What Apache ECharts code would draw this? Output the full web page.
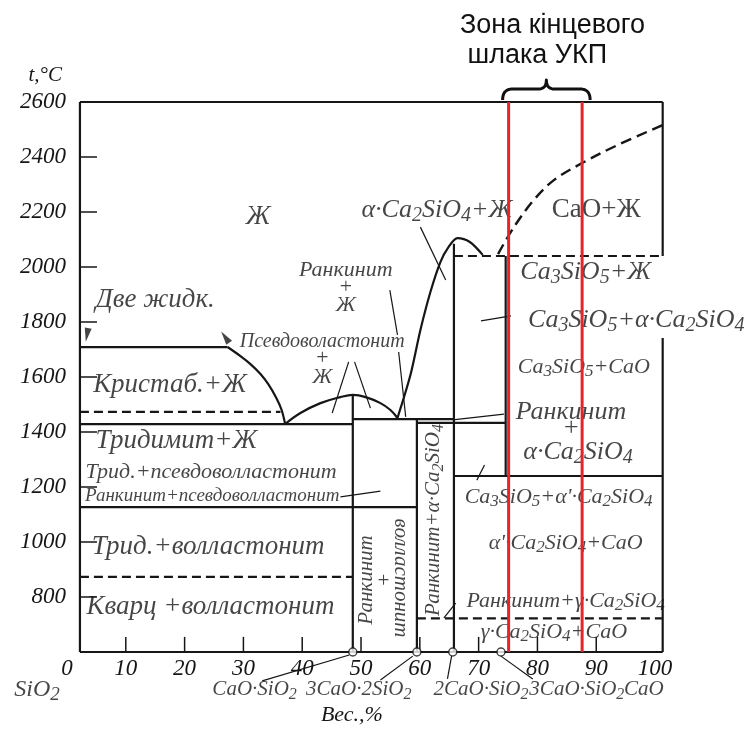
<!DOCTYPE html>
<html>
<head>
<meta charset="utf-8">
<script src="https://cdn.jsdelivr.net/npm/echarts@6/dist/echarts.min.js"></script>
<style>
  html, body { margin: 0; padding: 0; background: #fff; }
  #chart { width: 753px; height: 736px; }
</style>
</head>
<body>
<div id="chart"></div>
<script>
// ---- CaO–SiO2 phase diagram: composition in wt.% CaO, temperature in °C ----

const compTicks = [10, 20, 30, 40, 50, 60, 70, 80, 90];
const tempTicks = [800, 1000, 1200, 1400, 1600, 1800, 2000, 2200, 2400];

// outer frame of the diagram
const frameLeft = 2.2;
const frameRight = 101.3;
const tBottom = 600;
const tTop = 2600;

// compound compositions (wt.% CaO): CaO·SiO2, 3CaO·2SiO2, 2CaO·SiO2, 3CaO·SiO2
const compoundMarks = [48.6, 59.5, 65.6, 73.8];

// liquidus curves
const silicaLiquidus = [[27.3, 1709], [29.5, 1676], [31.2, 1647], [32.9, 1611], [34.2, 1575], [35.6, 1524], [36.5, 1480], [37.1, 1429]];
const wollastoniteDome = [[37.1, 1429], [39.7, 1469], [43.1, 1505], [46.5, 1527], [48.6, 1535], [50.8, 1527], [53.3, 1505], [55.0, 1480], [56.2, 1451]];
const dicalciumLiquidus = [[56.2, 1451], [58.4, 1607], [60.1, 1771], [61.8, 1909], [63.5, 2018], [64.9, 2073], [66.4, 2105], [68.5, 2091], [70.7, 2044]];
const limeLiquidus = [[73.3, 2047], [76.0, 2145], [79.4, 2244], [82.8, 2316], [87.6, 2378], [93.7, 2444], [101.3, 2516]];

// solid boundaries (isotherms and compound lines)
const solidLines = [
  [[frameLeft, 1709], [27.3, 1709]],
  [[frameLeft, 1429], [48.6, 1429]],
  [[48.6, 1535], [48.6, 600]],
  [[48.6, 1447], [65.8, 1447]],
  [[59.5, 1447], [59.5, 600]],
  [[59.5, 1433], [74.6, 1433]],
  [[65.8, 2085], [65.8, 600]],
  [[74.6, 2040], [74.6, 1240]],
  [[65.8, 1240], [frameRight, 1240]],
  [[frameLeft, 1127], [59.5, 1127]]
];

// polymorphic transitions (dashed)
const dashedLines = [
  [[frameLeft, 1473], [36.3, 1473]],
  [[frameLeft, 873], [48.6, 873]],
  [[59.5, 722], [frameRight, 722]],
  [[65.8, 2040], [frameRight, 2040]]
];

// frame sides
const frameLines = [
  [[frameLeft, tBottom], [frameLeft, tTop]],
  [[frameLeft, tTop], [frameRight, tTop]],
  [[frameLeft, tBottom], [frameRight, tBottom]],
  [[frameRight, tTop], [frameRight, 2040]],
  [[frameRight, 1742], [frameRight, tBottom]]
];

// label pointer lines
const pointerLines = [
  [[60.1, 2145], [64.4, 1953]],
  [[54.9, 1916], [56.2, 1753]],
  [[56.4, 1691], [57.6, 1455]],
  [[47.9, 1655], [45.1, 1469]],
  [[48.9, 1655], [51.6, 1487]],
  [[70.4, 1804], [75.5, 1822]],
  [[65.6, 1444], [74.3, 1465]],
  [[46.5, 1164], [53.3, 1185]],
  [[66.1, 778], [64.1, 724]],
  [[69.7, 1225], [71.0, 1280]],
  [[33.2, 495], [48.0, 589]],
  [[53.3, 498], [58.8, 585]],
  [[64.7, 502], [65.4, 585]],
  [[79.2, 502], [73.8, 585]]
];

// end-slag zone of the converter (wt.% CaO)
const slagZone = [75.1, 87.6];

// field labels: [text, wt.% CaO, °C]; "_n" marks a subscript
const phaseFieldLabels = [
  ['Ж', 32.5, 2182],
  ['Две жидк.', 15.0, 1880],
  ['Кристаб.+Ж', 17.5, 1571],
  ['Тридимит+Ж', 18.6, 1367],
  ['Трид.+волластонит', 24.0, 982],
  ['Кварц +волластонит', 24.4, 764]
];
const limeSideLabels = [
  ['α·Ca_2SiO_4+Ж', 62.9, 2207],
  ['Ca_3SiO_5+Ж', 88.2, 1982],
  ['Ca_3SiO_5+α·Ca_2SiO_4', 96.8, 1807],
  ['Ранкинит', 85.7, 1473],
  ['+', 85.7, 1415],
  ['α·Ca_2SiO_4', 86.9, 1327]
];
const liquidFieldLabels = [
  ['Ранкинит', 47.4, 1989],
  ['+', 47.4, 1927],
  ['Ж', 47.4, 1862],
  ['+', 43.4, 1669],
  ['Ж', 43.4, 1600]
];
const subsolidusLabels = [
  ['Ca_3SiO_5+CaO', 87.9, 1636],
  ['Трид.+псевдоволластонит', 24.5, 1255],
  ['Ca_3SiO_5+α\'·Ca_2SiO_4', 83.6, 1164],
  ['α\'·Ca_2SiO_4+CaO', 84.8, 996],
  ['γ·Ca_2SiO_4+CaO', 82.8, 673],
  ['Ранкинит+γ·Ca_2SiO_4', 84.8, 785]
];
const pseudoLabels = [
  ['Псевдоволастонит', 43.4, 1727]
];
const rankinitePseudoLabels = [
  ['Ранкинит+псевдоволластонит', 24.7, 1167]
];
const uprightLabels = [
  ['CaO+Ж', 90.0, 2207]
];
// vertical labels: [text, wt.% CaO, °C, rotation]
const verticalLabels = [
  ['Ранкинит', 50.9, 862, 90],
  ['+', 53.8, 855, 0],
  ['волластонит', 56.7, 869, -90],
  ['Ранкинит+α·Ca_2SiO_4', 62.4, 1080, 90]
];
// captions under the composition axis
const compoundCaptions = [
  ['CaO·SiO_2', 31.9, 462],
  ['3CaO·2SiO_2', 49.6, 462],
  ['2CaO·SiO_2', 70.4, 462],
  ['3CaO·SiO_2', 86.7, 462],
  ['CaO', 98.1, 462]
];
const oxideCaptions = [
  ['SiO_2', -5.1, 462]
];
// small arrowheads on the monotectic line
const arrowMarks = [[3.4, 1753, 170], [26.9, 1745, 35]];

// ---------------------------------------------------------------------------
const INK = '#161616';
const SERIF = 'Liberation Serif';

function toRich(t) {
  return t.replace(/_(\d)/g, '{s|$1}');
}

function lineSeries(points, width, type, smooth, z) {
  return {
    type: 'line', data: points, symbol: 'none', showSymbol: false,
    clip: false, silent: true, animation: false, smooth: smooth || false,
    lineStyle: { color: INK, width: width, type: type || 'solid' },
    z: z || 2
  };
}

function labelSeries(list, size, italic) {
  const subSize = Math.round(size * 0.78);
  return {
    type: 'scatter', symbolSize: 0, clip: false, silent: true, animation: false, z: 3,
    data: list.map(function (it) {
      return {
        value: [it[1], it[2]],
        label: {
          show: true, position: 'inside',
          rotate: it[3] || 0,
          formatter: function () { return toRich(it[0]); },
          fontFamily: SERIF, fontStyle: italic ? 'italic' : 'normal',
          fontSize: size, color: INK,
          rich: {
            s: {
              fontFamily: SERIF, fontStyle: italic ? 'italic' : 'normal',
              fontSize: subSize, color: INK,
              padding: [Math.round(size * 0.42), 0, 0, 0]
            }
          }
        }
      };
    })
  };
}

const series = [];
frameLines.forEach(function (s) { series.push(lineSeries(s, 2.2)); });
solidLines.forEach(function (s) { series.push(lineSeries(s, 2.2)); });
dashedLines.forEach(function (s) { series.push(lineSeries(s, 2.2, [9, 5])); });
series.push(lineSeries(silicaLiquidus, 2.2, 'solid', 0.3));
series.push(lineSeries(wollastoniteDome, 2.2, 'solid', 0.4));
series.push(lineSeries(dicalciumLiquidus, 2.2, 'solid', 0.3));
series.push(lineSeries(limeLiquidus, 2.4, [11, 6], 0.35));
pointerLines.forEach(function (s) { series.push(lineSeries(s, 1.2)); });

// axis ticks drawn inside the frame
tempTicks.forEach(function (t) { series.push(lineSeries([[frameLeft, t], [5.1, t]], 1.5)); });
compTicks.forEach(function (c) { series.push(lineSeries([[c, tBottom], [c, 655]], 1.5)); });

// compound markers on the composition axis
series.push({
  type: 'scatter', clip: false, silent: true, animation: false, z: 4,
  symbol: 'circle', symbolSize: 8,
  itemStyle: { color: '#fff', borderColor: INK, borderWidth: 1.5 },
  data: compoundMarks.map(function (c) { return [c, tBottom]; })
});

// arrowheads
series.push({
  type: 'scatter', clip: false, silent: true, animation: false, z: 4,
  symbol: 'triangle', symbolSize: [7, 14],
  itemStyle: { color: INK },
  data: arrowMarks.map(function (a) { return { value: [a[0], a[1]], symbolRotate: a[2] }; })
});

series.push(labelSeries(phaseFieldLabels, 27, true));
series.push(labelSeries(limeSideLabels, 26, true));
series.push(labelSeries(liquidFieldLabels, 22, true));
series.push(labelSeries(subsolidusLabels, 22, true));
series.push(labelSeries(pseudoLabels, 20, true));
series.push(labelSeries(rankinitePseudoLabels, 19, true));
series.push(labelSeries(uprightLabels, 27, false));
series.push(labelSeries(verticalLabels, 21, true));
series.push(labelSeries(compoundCaptions, 21, true));
series.push(labelSeries(oxideCaptions, 24, true));

// red boundaries of the end-slag zone
slagZone.forEach(function (c) {
  series.push({
    type: 'line', data: [[c, tBottom], [c, tTop]], symbol: 'none', clip: false,
    silent: true, animation: false, z: 10,
    lineStyle: { color: '#e3262b', width: 3 }
  });
});

const chart = echarts.init(document.getElementById('chart'), null, { renderer: 'canvas' });

chart.setOption({
  backgroundColor: '#fff',
  animation: false,
  title: {
    text: 'Зона кінцевого\n шлака УКП',
    left: 455, top: 6,
    textStyle: { fontFamily: 'Liberation Sans', fontSize: 27, fontWeight: 'normal', color: '#111', lineHeight: 30 }
  },
  grid: { left: 67, right: 86.2, top: 102, bottom: 84, containLabel: false, outerBoundsMode: 'none' },
  xAxis: {
    type: 'value', min: 0, max: 102, interval: 10,
    axisLine: { show: false }, axisTick: { show: false }, splitLine: { show: false },
    axisLabel: {
      fontFamily: SERIF, fontStyle: 'italic', fontSize: 23, color: INK, margin: 5,
      formatter: function (v) { return v % 10 === 0 ? String(v) : ''; }
    },
    name: 'Вес.,%', nameLocation: 'middle', nameGap: 52,
    nameTextStyle: { fontFamily: SERIF, fontStyle: 'italic', fontSize: 22, color: INK, padding: [0, 30, 0, 0] }
  },
  yAxis: {
    type: 'value', min: tBottom, max: tTop, interval: 200,
    axisLine: { show: false }, axisTick: { show: false }, splitLine: { show: false },
    axisLabel: {
      fontFamily: SERIF, fontStyle: 'italic', fontSize: 23, color: INK, margin: 1,
      formatter: function (v) { return v === tBottom ? '' : String(v); }
    },
    name: 't,°C', nameLocation: 'end', nameGap: 16,
    nameTextStyle: { fontFamily: SERIF, fontStyle: 'italic', fontSize: 21, color: INK, align: 'right', padding: [0, 5, 0, 0] }
  },
  series: series
});

// curly brace over the end-slag zone, sampled from quadratic curves
const pL = chart.convertToPixel({ gridIndex: 0 }, [slagZone[0], tTop]);
const pR = chart.convertToPixel({ gridIndex: 0 }, [slagZone[1], tTop]);
const xL = pL[0] - 6, xR = pR[0] + 8, xm = (xL + xR) / 2;
const yb = pL[1] - 2, yh = pL[1] - 13, yp = pL[1] - 22;

function quad(p0, c, p1, out) {
  for (let i = 0; i <= 10; i++) {
    const t = i / 10, u = 1 - t;
    out.push([u * u * p0[0] + 2 * u * t * c[0] + t * t * p1[0], u * u * p0[1] + 2 * u * t * c[1] + t * t * p1[1]]);
  }
}
const bracePts = [];
quad([xL, yb], [xL, yh], [xL + 10, yh], bracePts);
quad([xm - 8, yh], [xm, yh], [xm, yp], bracePts);
quad([xm, yp], [xm, yh], [xm + 8, yh], bracePts);
quad([xR - 10, yh], [xR, yh], [xR, yb], bracePts);

chart.setOption({
  graphic: [{
    type: 'polyline', silent: true,
    shape: { points: bracePts },
    style: { fill: null, stroke: '#111', lineWidth: 3, lineJoin: 'round' }
  }]
});
</script>
</body>
</html>
